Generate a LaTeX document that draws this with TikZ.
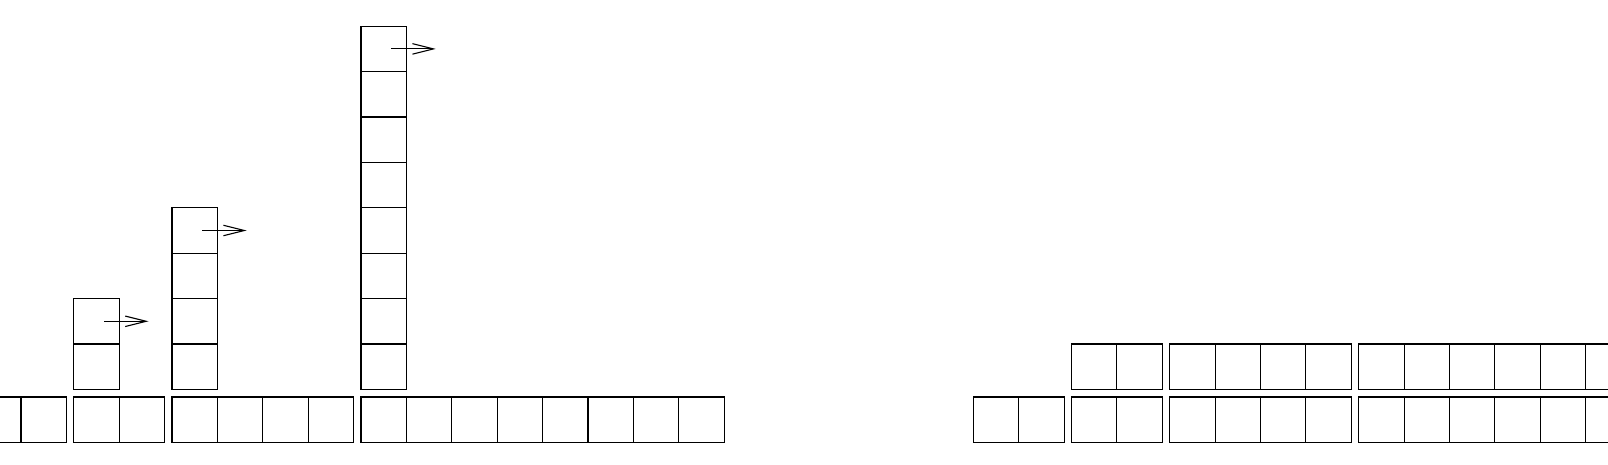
\documentclass[tikz,border=0pt]{standalone}
\usetikzlibrary{arrows.meta}
\begin{document}
\begin{tikzpicture}[x=1pt,y=-1pt,
  cell/.style={draw, minimum width=45.4pt, minimum height=45.4pt, inner sep=0pt, outer sep=0pt, line width=1.1pt, anchor=north west},
  ptr/.style={-{Straight Barb[length=21pt,width=10.5pt]}, line width=1.1pt}]
\useasboundingbox (0,0) rectangle (1608,464);
\clip (0,0) rectangle (1608,464);
% left: lower row
\foreach \g/\x/\n in {1/-24.4/2, 2/73.8/2, 3/172/4, 4/361/8} {
  \foreach \i in {1,...,\n} {
    \node[cell] (lb\g-\i) at ({\x+(\i-1)*45.4},397) {};
  }
}
% left: towers
\foreach \g/\x/\n in {2/73.8/2, 3/172/4, 4/361/8} {
  \foreach \j in {1,...,\n} {
    \node[cell] (tw\g-\j) at (\x,{389.4-\j*45.4}) {};
  }
}
\coordinate (e2) at ([xshift=52pt]tw2-2.center);
\coordinate (e3) at ([xshift=52pt]tw3-4.center);
\coordinate (e4) at ([xshift=52pt]tw4-8.center);
\draw[ptr] ([xshift=7.5pt]tw2-2.center) -- (e2);
\draw[ptr] ([xshift=7.5pt]tw3-4.center) -- (e3);
\draw[ptr] ([xshift=7.5pt]tw4-8.center) -- (e4);
% right: lower row
\foreach \g/\x/\n in {1/973.3/2, 2/1071.5/2, 3/1169.7/4, 4/1358.7/8} {
  \foreach \i in {1,...,\n} {
    \node[cell] (rb\g-\i) at ({\x+(\i-1)*45.4},397) {};
  }
}
% right: upper row
\foreach \g/\x/\n in {2/1071.5/2, 3/1169.7/4, 4/1358.7/8} {
  \foreach \i in {1,...,\n} {
    \node[cell] (ru\g-\i) at ({\x+(\i-1)*45.4},344) {};
  }
}
\end{tikzpicture}
\end{document}
